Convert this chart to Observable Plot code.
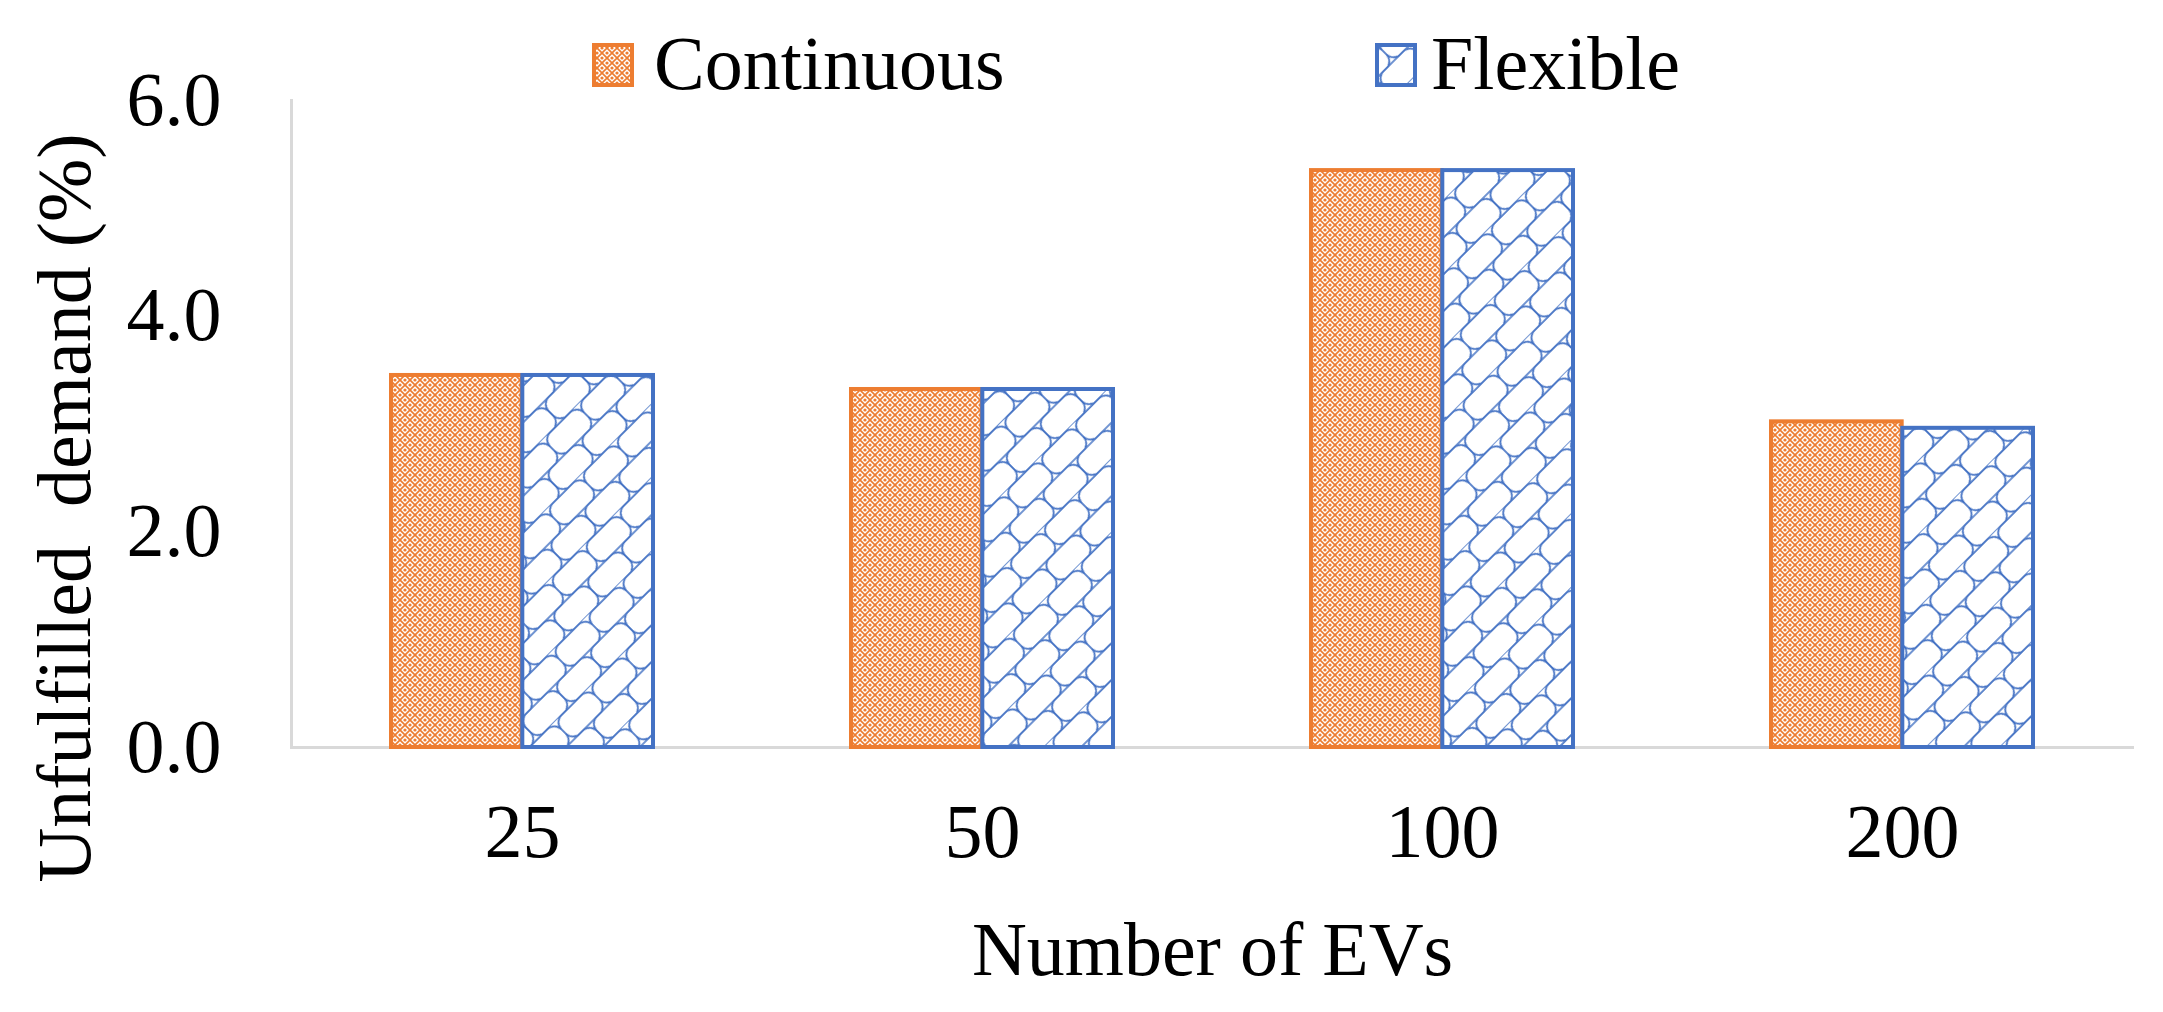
<!DOCTYPE html>
<html>
<head>
<meta charset="utf-8">
<script src="https://cdn.jsdelivr.net/npm/d3@7"></script>
<script src="https://cdn.jsdelivr.net/npm/@observablehq/plot@0.6"></script>
<style>
  html, body { margin: 0; padding: 0; background: #fff; }
  body { width: 2163px; height: 1012px; overflow: hidden; font-family: "Liberation Serif", "Times New Roman", serif; }
  #legend { position: relative; height: 100px; }
  .sw { position: absolute; top: 43px; width: 42px; height: 44px; }
  .lt { position: absolute; top: 25px; font-size: 76px; line-height: 76px; color: #000; }
  #caption { height: 112px; box-sizing: border-box; padding-top: 11px; padding-left: 291px; width: 2134px; text-align: center; font-size: 76px; line-height: 76px; color: #000; }
</style>
</head>
<body>
<svg width="0" height="0" style="position:absolute">
  <defs>
    <pattern id="patC" patternUnits="userSpaceOnUse" width="10" height="10">
      <rect width="10" height="10" fill="#fff"/>
      <path d="M0,0L10,10M10,0L0,10" stroke="#ED7D31" stroke-width="1.7"/>
      <circle cx="5" cy="0" r="1.6" fill="#ED7D31"/>
      <circle cx="5" cy="10" r="1.6" fill="#ED7D31"/>
      <circle cx="0" cy="5" r="1.6" fill="#ED7D31"/>
      <circle cx="10" cy="5" r="1.6" fill="#ED7D31"/>
    </pattern>
    <pattern id="patF" patternUnits="userSpaceOnUse" width="48" height="52" patternTransform="rotate(-45)">
      <rect width="48" height="52" fill="#fff"/>
      <g fill="none" stroke="#4472C4" stroke-width="1.7">
        <rect x="0" y="0" width="48" height="26" rx="10" ry="10"/>
        <rect x="0" y="-26" width="48" height="26" rx="10" ry="10"/>
        <rect x="0" y="52" width="48" height="26" rx="10" ry="10"/>
        <rect x="-24" y="26" width="48" height="26" rx="10" ry="10"/>
        <rect x="24" y="26" width="48" height="26" rx="10" ry="10"/>
      </g>
    </pattern>
  </defs>
</svg>
<div id="legend"></div>
<div id="chart"></div>
<div id="caption"></div>
<script>
// ---- data ----
const categories = ["25", "50", "100", "200"];
const seriesNames = ["Continuous", "Flexible"];
const continuousValues = [3.45, 3.32, 5.35, 3.02];
const flexibleValues = [3.45, 3.32, 5.35, 2.96];
const yTicks = [0, 2, 4, 6];
const xTitle = "Number of EVs";
const yTitle = "Unfulfilled\u00a0 demand (%)";

const colors = { Continuous: "#ED7D31", Flexible: "#4472C4" };
const fills = { Continuous: "url(#patC)", Flexible: "url(#patF)" };

const rows = [];
categories.forEach((c, i) => {
  rows.push({ n: c, s: seriesNames[0], v: continuousValues[i] });
  rows.push({ n: c, s: seriesNames[1], v: flexibleValues[i] });
});

// ---- layout ----
const W = 2163, H = 800;
const mL = 291, mR = 29, mT = 0, mB = 153;
const pInner = 0.43, pOuter = 0.215;
const step = (W - mL - mR) / (categories.length - pInner + 2 * pOuter);
const bw = step * (1 - pInner);
const half = bw / 2;
const font = "Liberation Serif, Times New Roman, serif";

const chart = Plot.plot({
  width: W,
  height: H,
  marginLeft: mL,
  marginRight: mR,
  marginTop: mT,
  marginBottom: mB,
  style: { fontFamily: font, fontSize: "76px", color: "#000", background: "#fff", overflow: "visible" },
  x: { domain: categories, type: "band", paddingInner: pInner, paddingOuter: pOuter },
  y: { domain: [0, 6] },
  marks: [
    Plot.ruleY([0], { stroke: "#d9d9d9", strokeWidth: 3 }),
    Plot.frame({ anchor: "left", stroke: "#d9d9d9", strokeWidth: 3 }),
    Plot.barY(rows.filter(d => d.s === "Continuous"), {
      x: "n", y: "v", insetRight: half,
      fill: fills.Continuous, stroke: colors.Continuous, strokeWidth: 4
    }),
    Plot.barY(rows.filter(d => d.s === "Flexible"), {
      x: "n", y: "v", insetLeft: half,
      fill: fills.Flexible, stroke: colors.Flexible, strokeWidth: 4
    }),
    Plot.axisY({ ticks: yTicks, tickFormat: d3.format(".1f"), tickSize: 0, tickPadding: 70, label: null, fontSize: 76, fill: "#000" }),
    Plot.axisX({ tickSize: 0, tickPadding: 56, label: null, fontSize: 76, fill: "#000" }),
    Plot.text([yTitle], { frameAnchor: "left", rotate: -90, dx: -226, dy: 84, fontSize: 76, fill: "#000", textAnchor: "middle" })
  ]
});
document.getElementById("chart").appendChild(chart);

// ---- legend (HTML, above the SVG) ----
const legend = document.getElementById("legend");
const legendPos = [{ sw: 592, tx: 654 }, { sw: 1375, tx: 1431 }];
seriesNames.forEach((s, i) => {
  const sw = document.createElementNS("http://www.w3.org/2000/svg", "svg");
  sw.setAttribute("class", "sw");
  sw.setAttribute("width", 42);
  sw.setAttribute("height", 44);
  sw.style.left = legendPos[i].sw + "px";
  const r = document.createElementNS("http://www.w3.org/2000/svg", "rect");
  r.setAttribute("x", 2); r.setAttribute("y", 2);
  r.setAttribute("width", 38); r.setAttribute("height", 40);
  r.setAttribute("fill", fills[s]);
  r.setAttribute("stroke", colors[s]);
  r.setAttribute("stroke-width", 4);
  sw.appendChild(r);
  legend.appendChild(sw);
  const t = document.createElement("div");
  t.className = "lt";
  t.style.left = legendPos[i].tx + "px";
  t.textContent = s;
  legend.appendChild(t);
});
document.getElementById("caption").textContent = xTitle;
</script>
</body>
</html>
